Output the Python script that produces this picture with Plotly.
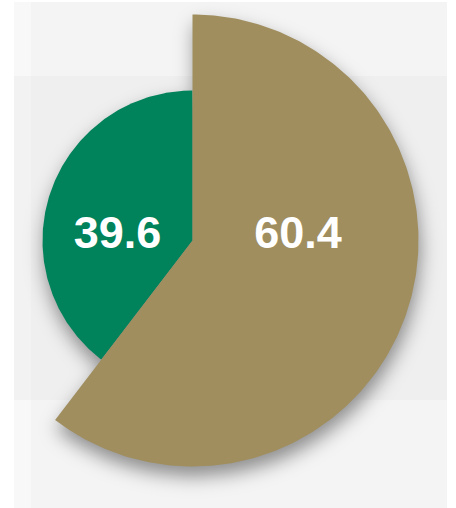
import numpy as np
import plotly.graph_objects as go

# ---- data ----
categories = ["Segment A", "Segment B"]
values = [60.4, 39.6]
colors = ["#A08E5F", "#00825A"]

# ---- layout constants ----
W, H = 456, 508
CX, CY = 192.5, 240.5          # pie centre in pixels (from top-left)
R_MIN, R_MAX = 150.0, 226.0    # variable-pie min/max radius (px)

vals = np.array(values, dtype=float)
total = vals.sum()
vmin, vmax = vals.min(), vals.max()
radii = R_MIN + (vals - vmin) / (vmax - vmin) * (R_MAX - R_MIN)

# angular extents (degrees, clockwise from 12 o'clock)
ends = np.cumsum(vals) / total * 360.0
starts = np.concatenate([[0.0], ends[:-1]])


def wedge(r, a0, a1, n=240):
    t = np.radians(np.linspace(a0, a1, n))
    x = np.concatenate([[0.0], r * np.sin(t), [0.0]])
    y = np.concatenate([[0.0], r * np.cos(t), [0.0]])
    return x, y


# ---- soft drop shadow computed from the slices ----
step = 2.0
gx = np.arange(-CX, W - CX, step) + step / 2
gy = np.arange(-(H - CY), CY, step) + step / 2
XX, YY = np.meshgrid(gx, gy)
SX, SY = XX - 1.0, YY + 9.0           # shadow offset: 1px right, 9px down
ang = np.degrees(np.arctan2(SX, SY)) % 360.0
rad = np.hypot(SX, SY)
mask = np.zeros_like(XX)
for r, a0, a1 in zip(radii, starts, ends):
    mask[(ang >= a0) & (ang < a1) & (rad <= r)] = 1.0

sigma = 9.0 / step
k = np.arange(-int(3 * sigma), int(3 * sigma) + 1)
kern = np.exp(-0.5 * (k / sigma) ** 2)
kern /= kern.sum()
blur = np.apply_along_axis(lambda m: np.convolve(m, kern, mode="same"), 1, mask)
blur = np.apply_along_axis(lambda m: np.convolve(m, kern, mode="same"), 0, blur)

fig = go.Figure()
fig.add_trace(go.Heatmap(
    x=gx, y=gy, z=blur, zmin=0, zmax=1, zsmooth="best",
    colorscale=[[0, "rgba(0,0,0,0)"], [1, "rgba(0,0,0,0.42)"]],
    showscale=False, hoverinfo="skip"))

# slices (smaller first)
order = np.argsort(radii)
for i in order:
    x, y = wedge(radii[i], starts[i], ends[i])
    fig.add_trace(go.Scatter(
        x=x, y=y, mode="lines", fill="toself", fillcolor=colors[i],
        line=dict(width=0, color=colors[i]), name=categories[i],
        hoverinfo="skip", showlegend=False))

# labels
mids = (starts + ends) / 2
lx = 0.48 * radii * np.sign(np.sin(np.radians(mids))) - 3.0
ly = np.full_like(lx, 4.0)
fig.add_trace(go.Scatter(
    x=lx, y=ly, mode="text", text=[f"{v:.1f}" for v in values],
    textposition="middle center",
    textfont=dict(family="Liberation Sans, Arial, sans-serif", size=45,
                  color="white", weight="bold"),
    hoverinfo="skip", showlegend=False))

# background panels
def px(x):
    return x / W


def py(y):
    return 1 - y / H


shapes = [
    dict(type="rect", xref="paper", yref="paper", x0=px(14), x1=px(447),
         y0=py(508), y1=py(2), fillcolor="#f4f4f4", line_width=0, layer="below"),
    dict(type="rect", xref="paper", yref="paper", x0=px(31), x1=px(447),
         y0=py(400), y1=py(76), fillcolor="#efefef", line_width=0, layer="below"),
    dict(type="rect", xref="paper", yref="paper", x0=px(14), x1=px(31),
         y0=py(508), y1=py(2), fillcolor="#f8f8f8", line_width=0, layer="below"),
    dict(type="rect", xref="paper", yref="paper", x0=px(14), x1=px(31),
         y0=py(400), y1=py(76), fillcolor="#f2f2f2", line_width=0, layer="below"),
]

fig.update_layout(
    width=W, height=H, autosize=False,
    margin=dict(l=0, r=0, t=0, b=0, pad=0),
    paper_bgcolor="white", plot_bgcolor="rgba(0,0,0,0)",
    shapes=shapes, showlegend=False,
    xaxis=dict(range=[-CX, W - CX], visible=False, fixedrange=True),
    yaxis=dict(range=[-(H - CY), CY], visible=False, fixedrange=True),
)

fig.write_html("out.html", config={"displayModeBar": False},
               post_script="document.body.style.margin='0';")
